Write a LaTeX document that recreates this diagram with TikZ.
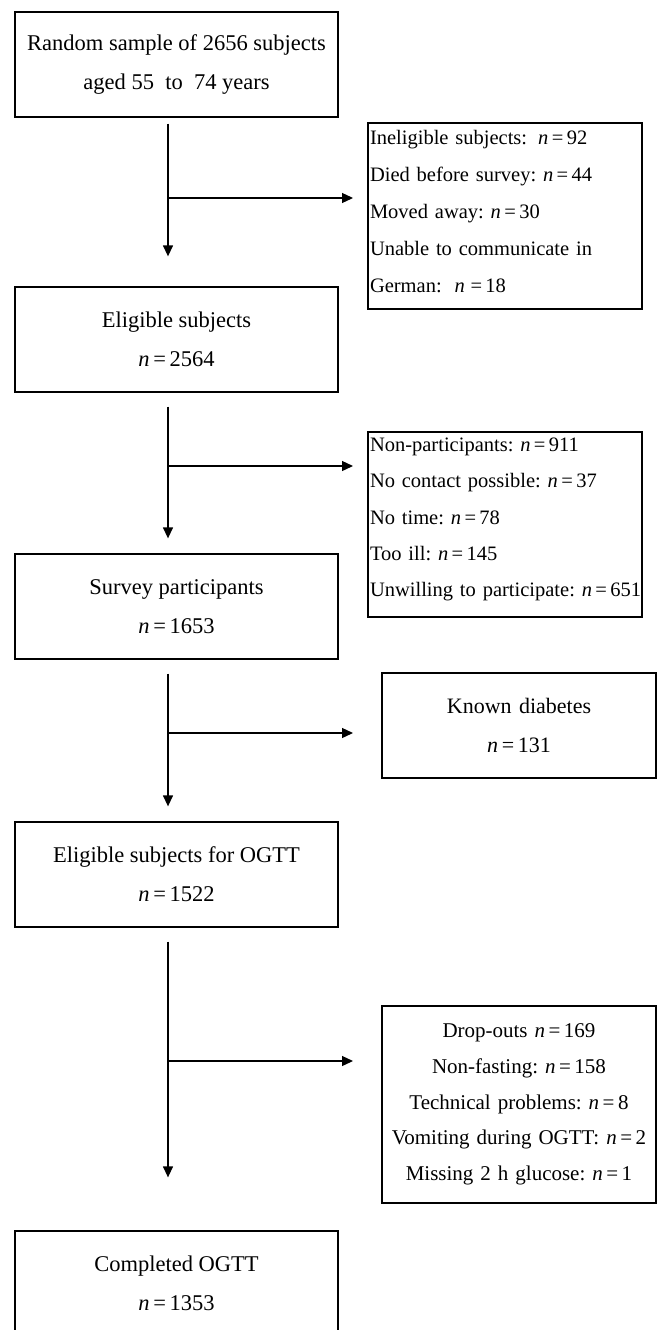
\documentclass[tikz,border=0pt]{standalone}
\usepackage{fontspec}
\setmainfont{Liberation Serif}
\usetikzlibrary{arrows.meta, positioning}

\newcommand{\nval}[1]{\textit{n}\,=\,#1}

\begin{document}
\frenchspacing
\begin{tikzpicture}[x=1pt,y=-1pt,
    mainbox/.style={draw,line width=1.3pt,minimum width=323pt,minimum height=105pt,
        align=center,font=\fontsize{22.5}{39}\selectfont},
    sidebox/.style={draw,line width=1.3pt,text width=270pt,inner xsep=2pt,
        font=\fontsize{21}{36.5}\selectfont},
    flow/.style={line width=1.3pt,-{Triangle[width=10pt,length=11pt]}}]
\useasboundingbox (0,0) rectangle (659,1330);
\clip (0,0) rectangle (659,1330);

% Main stages
\node[mainbox] (sample) at (176.5,64.5) {Random sample of 2656 subjects\\aged 55~ to~ 74 years};
\node[mainbox] (eligible) at (176.5,339.5) {Eligible subjects\\\nval{2564}};
\node[mainbox] (survey) at (176.5,606.5) {Survey participants\\\nval{1653}};
\node[mainbox] (ogtt) at (176.5,874.5) {Eligible subjects for OGTT\\\nval{1522}};
\node[mainbox] (completed) at (176.5,1283.5) {Completed OGTT\\\nval{1353}};

% Exclusions
\node[sidebox,align=left,minimum height=186pt,text depth=158pt,
      font=\fontsize{20.5}{37}\selectfont] (ineligible) at (505,216)
    {Ineligible subjects:\hspace{11pt}\nval{92}\\Died before survey: \nval{44}\\Moved away: \nval{30}\\Unable to communicate in\\German:\hspace{6pt} \textit{n}\;=\,18};
\node[sidebox,align=left,minimum height=185pt,text depth=159.5pt,
      font=\fontsize{20.5}{36.3}\selectfont] (nonpart) at (505,524.5)
    {Non-participants: \nval{911}\\No contact possible: \nval{37}\\No time: \nval{78}\\Too ill: \nval{145}\\\mbox{Unwilling to participate: \nval{651}}};
\node[sidebox,align=center,minimum height=105pt,font=\fontsize{22}{39}\selectfont] (diabetes) at (519,725.5)
    {Known diabetes\\\nval{131}};
\node[sidebox,align=center,minimum height=197pt,font=\fontsize{21}{35.8}\selectfont] (dropouts) at (519,1104.5)
    {Drop-outs \nval{169}\\Non-fasting: \nval{158}\\Technical problems: \nval{8}\\Vomiting during OGTT: \nval{2}\\Missing 2 h glucose: \nval{1}};

% Downward arrows
\draw[flow] ([xshift=-8.5pt,yshift=-6pt]sample.south) -- ([xshift=-8.5pt,yshift=30pt]eligible.north);
\draw[flow] ([xshift=-8.5pt,yshift=-14pt]eligible.south) -- ([xshift=-8.5pt,yshift=15pt]survey.north);
\draw[flow] ([xshift=-8.5pt,yshift=-14pt]survey.south) -- ([xshift=-8.5pt,yshift=15pt]ogtt.north);
\draw[flow] ([xshift=-8.5pt,yshift=-14pt]ogtt.south) -- ([xshift=-8.5pt,yshift=53pt]completed.north);

% Side branches
\coordinate (j1) at (168,198);   \coordinate (t1) at (353,198);
\coordinate (j2) at (168,466);   \coordinate (t2) at (353,466);
\coordinate (j3) at (168,733);   \coordinate (t3) at (353,733);
\coordinate (j4) at (168,1061);  \coordinate (t4) at (353,1061);
\draw[flow] (j1) -- (t1);
\draw[flow] (j2) -- (t2);
\draw[flow] (j3) -- (t3);
\draw[flow] (j4) -- (t4);
\end{tikzpicture}
\end{document}
